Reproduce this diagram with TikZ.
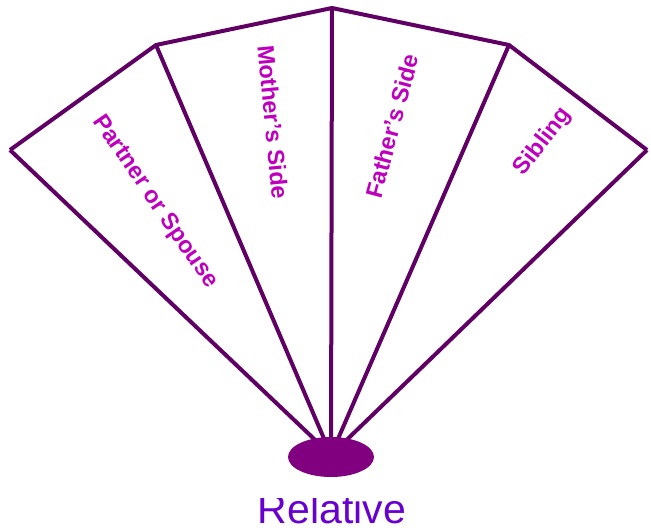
\documentclass[tikz,border=0pt]{standalone}
\usepackage{fontspec}
\setmainfont{Liberation Sans}
\usetikzlibrary{positioning,shapes.geometric}
\definecolor{fanline}{RGB}{96,0,100}
\definecolor{hubfill}{RGB}{128,0,128}
\definecolor{bladetext}{RGB}{190,0,190}
\definecolor{rootblue}{RGB}{104,0,208}

\begin{document}
\begin{tikzpicture}[x=1pt,y=-1pt, every node/.style={font=\bfseries\fontsize{23.5}{27}\selectfont,text=bladetext}]
      \useasboundingbox (0,0) rectangle (651,531);
      % fan corners
      \coordinate (apex) at (331,455);
      \coordinate (p1) at (10,150);
      \coordinate (p2) at (156,45);
      \coordinate (p3) at (332,8);
      \coordinate (p4) at (509,45);
      \coordinate (p5) at (647,150);
      \draw[fanline,line width=4pt] (apex) -- (p1);
      \draw[fanline,line width=4pt] (apex) -- (p2);
      \draw[fanline,line width=4pt] (apex) -- (p3);
      \draw[fanline,line width=4pt] (apex) -- (p4);
      \draw[fanline,line width=4pt] (apex) -- (p5);
      \draw[fanline,line width=4pt] (p1) -- (p2) -- (p3) -- (p4) -- (p5);
      \node[ellipse,fill=hubfill,minimum width=86pt,minimum height=40pt,inner sep=0pt] (hub) at (331,457) {};
      % blade labels
      \node[rotate=-55.6] (partner) at (155,202) {Partner or Spouse};
      \node[rotate=-84.5] (mother) at (273,122) {Mother's Side};
      \node[rotate=75] (father) at (392,126) {Father's Side};
      \node[rotate=52.5] (sibling) at (543,142) {Sibling};
      % root label, cut off at the top as in the source
      \begin{scope}
        \clip (0,498) rectangle (651,531);
        \node[font=\fontsize{41}{48}\selectfont,text=rootblue,anchor=base] (relative) at (332,523) {Relative};
      \end{scope}
    \end{tikzpicture}
\end{document}
